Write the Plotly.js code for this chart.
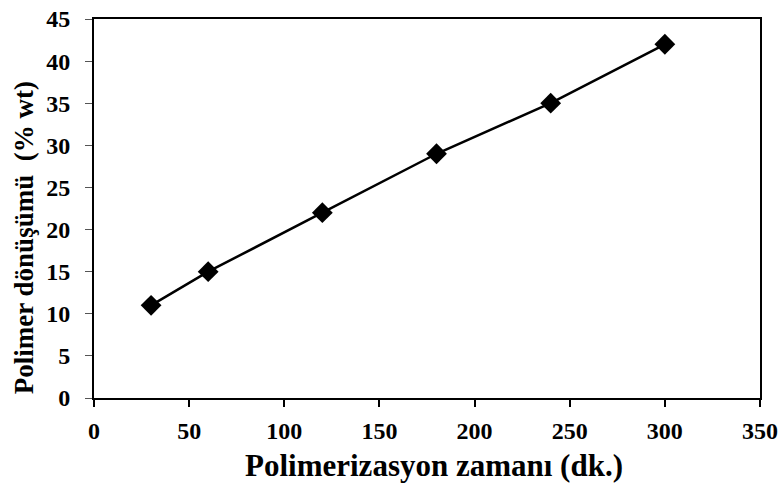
<!DOCTYPE html>
<html>
<head>
<meta charset="utf-8">
<script src="https://cdn.plot.ly/plotly-3.0.1.min.js"></script>
<style>html,body{margin:0;padding:0;background:#fff;}#chart{width:784px;height:488px;}</style>
</head>
<body>
<div id="chart"></div>
<script>
const time = [30, 60, 120, 180, 240, 300];
const conversion = [11, 15, 22, 29, 35, 42];
const xTicks = [0, 50, 100, 150, 200, 250, 300, 350];
const yTicks = [0, 5, 10, 15, 20, 25, 30, 35, 40, 45];
const xTitle = 'Polimerizasyon zamanı (dk.)';
const yTitle = 'Polimer dönüşümü  (% wt)';

const font = 'Liberation Serif, Times New Roman, serif';
const trace = {
  x: time, y: conversion, type: 'scatter', mode: 'lines+markers',
  line: {color: '#000', width: 2.5},
  marker: {symbol: 'diamond', size: 16, color: '#000'},
  showlegend: false
};
const layout = {
  width: 784, height: 488,
  margin: {l: 94, r: 24, t: 19, b: 90},
  paper_bgcolor: '#fff', plot_bgcolor: '#fff',
  font: {family: font, color: '#000'},
  xaxis: {
    range: [0, 350], tickvals: xTicks, ticktext: xTicks.map(v => '<b>' + v + '</b>'),
    showgrid: false, zeroline: false, showline: true, linecolor: '#000', linewidth: 2,
    mirror: true, ticks: 'outside', ticklen: 7, tickwidth: 2, tickcolor: '#000',
    ticklabelstandoff: 3,
    tickfont: {family: font, size: 24, color: '#000'}
  },
  yaxis: {
    range: [0, 45], tickvals: yTicks, ticktext: yTicks.map(v => '<b>' + v + '</b>'),
    showgrid: false, zeroline: false, showline: true, linecolor: '#000', linewidth: 2,
    mirror: true, ticks: 'outside', ticklen: 7, tickwidth: 1, tickcolor: '#555',
    ticklabelstandoff: 10,
    tickfont: {family: font, size: 24, color: '#000'}
  },
  annotations: [
    {text: '<b>' + xTitle + '</b>', xref: 'paper', yref: 'paper', x: 0.5105, y: -0.1768,
     xanchor: 'center', yanchor: 'middle', showarrow: false,
     font: {family: font, size: 31, color: '#000'}},
    {text: '<b>' + yTitle + '</b>', xref: 'paper', yref: 'paper', x: -0.105, y: 0.422,
     xanchor: 'center', yanchor: 'middle', showarrow: false, textangle: -90,
     font: {family: font, size: 27, color: '#000'}}
  ]
};
Plotly.newPlot('chart', [trace], layout, {displayModeBar: false, staticPlot: true});
</script>
</body>
</html>
